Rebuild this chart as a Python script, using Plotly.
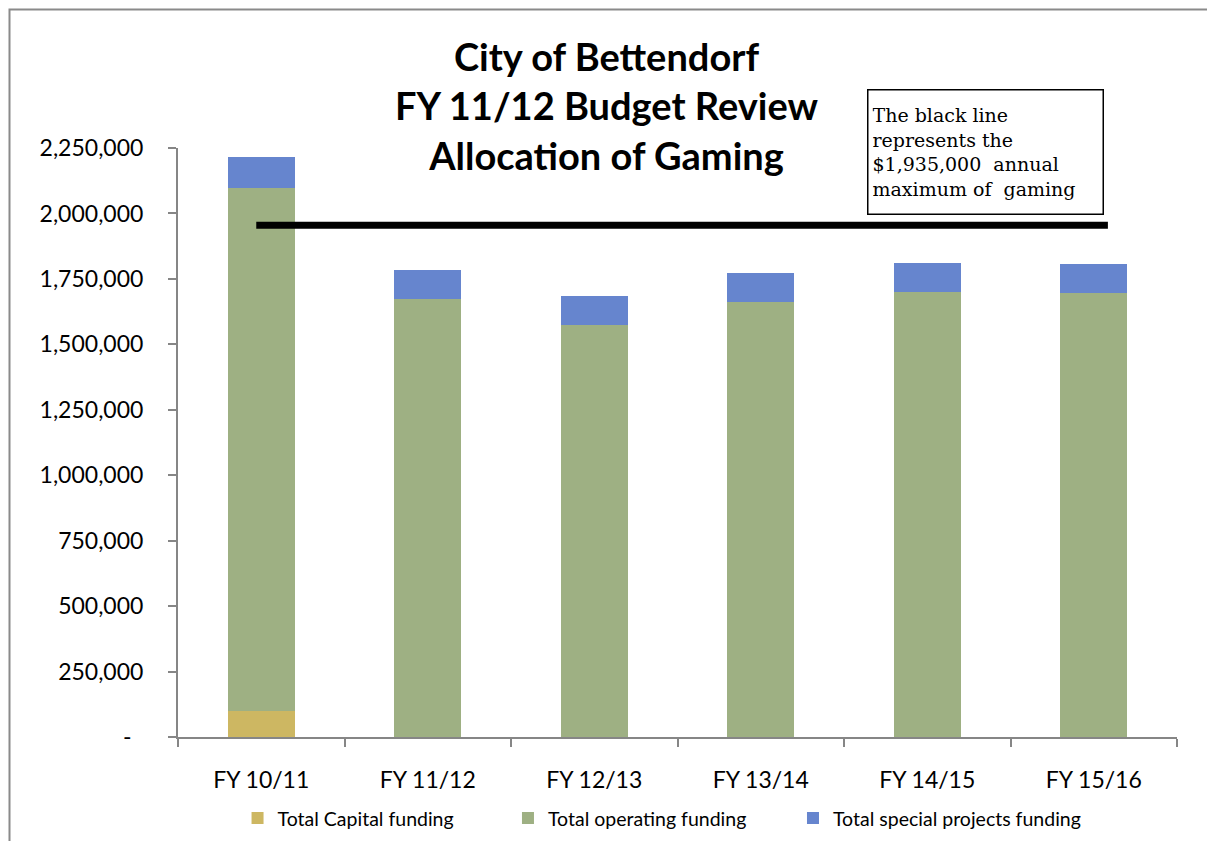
import plotly.graph_objects as go

# ---- data ----
categories = ["FY 10/11", "FY 11/12", "FY 12/13", "FY 13/14", "FY 14/15", "FY 15/16"]
capital_funding = [100000, 0, 0, 0, 0, 0]
operating_funding = [1997000, 1673000, 1574000, 1662000, 1700000, 1697000]
special_funding = [120000, 111000, 110000, 109000, 109000, 111000]
gaming_max_line = 1955000  # where the black line is drawn in the picture
y_ticks = [0, 250000, 500000, 750000, 1000000, 1250000, 1500000, 1750000, 2000000, 2250000]
y_tick_labels = ["-\u00a0\u00a0", "250,000", "500,000", "750,000", "1,000,000",
                 "1,250,000", "1,500,000", "1,750,000", "2,000,000", "2,250,000"]
series_names = ["Total Capital funding", "Total operating funding", "Total special projects funding"]
series_colors = ["#CDB762", "#9EB083", "#6685CE"]

FONT = "Lato"
AXIS_GREY = "#868686"
# the page body adds an 8px margin; shrink the figure so the plot lands where the reference has it
W, H = 1215 - 8, 841 - 8

fig = go.Figure()
series_values = [capital_funding, operating_funding, special_funding]
legend_ids = ["legend", "legend2", "legend3"]
for name, vals, col, lg in zip(series_names, series_values, series_colors, legend_ids):
    fig.add_trace(go.Bar(x=categories, y=vals, name=name, legend=lg,
                         marker=dict(color=col, line=dict(width=0))))

legend_common = dict(orientation="h", xanchor="left", y=-0.138, yanchor="middle",
                     font=dict(size=19.5, family=FONT), itemwidth=30,
                     bgcolor="rgba(0,0,0,0)")

fig.update_layout(
    width=W, height=H,
    margin=dict(l=170, r=38, t=140, b=104, autoexpand=False),
    paper_bgcolor="white", plot_bgcolor="white",
    barmode="stack", bargap=0.6,
    font=dict(family=FONT, color="black"),
    showlegend=True,
    legend=dict(x=0.0596, **legend_common),
    legend2=dict(x=0.3303, **legend_common),
    legend3=dict(x=0.6156, **legend_common),
)

fig.update_xaxes(
    showline=True, linecolor=AXIS_GREY, linewidth=2,
    ticks="outside", tickson="boundaries", ticklen=8, tickwidth=2, tickcolor=AXIS_GREY,
    tickfont=dict(size=23, family=FONT), ticklabelstandoff=21,
    showgrid=False, zeroline=False,
)
fig.update_yaxes(
    range=[0, 2250000], tickmode="array", tickvals=y_ticks, ticktext=y_tick_labels,
    showline=True, linecolor=AXIS_GREY, linewidth=2,
    ticks="outside", ticklen=8, tickwidth=2, tickcolor=AXIS_GREY,
    tickfont=dict(size=23, family=FONT), ticklabelstandoff=20,
    showgrid=False, zeroline=False,
)

# Title (three centred lines)
fig.add_annotation(
    text="<b>City of Bettendorf<br>FY 11/12 Budget Review<br>Allocation of Gaming</b>",
    xref="paper", yref="paper", x=0.4285, y=1.073, xanchor="center", yanchor="middle",
    showarrow=False, font=dict(size=38, family=FONT, color="black"), align="center",
)

# Note box
fig.add_annotation(
    text="The black line<br>represents the<br>$1,935,000  annual<br>maximum of  gaming",
    xref="paper", yref="paper", x=0.8088, y=0.9927, xanchor="center", yanchor="middle",
    showarrow=False, align="left", valign="middle", width=226, height=115,
    bordercolor="black", borderwidth=1.5, borderpad=4, bgcolor="white",
    font=dict(size=19, family="DejaVu Serif", color="black"),
)

# Black gaming-maximum line
fig.add_shape(type="line", xref="x", yref="y", x0=-0.03, x1=5.085,
              y0=gaming_max_line, y1=gaming_max_line,
              line=dict(color="black", width=7), layer="above")

# Outer chart frame (only top and left edges are in view)
fx0 = (1.5 - 170) / 999
fy1 = 1 + (140 - 1.5) / 589
fig.add_shape(type="path", xref="paper", yref="paper",
              path=f"M 1.5 {fy1} L {fx0} {fy1} L {fx0} -0.4",
              line=dict(color="#8A8A8A", width=2), layer="below")

fig.write_html("out.html")
